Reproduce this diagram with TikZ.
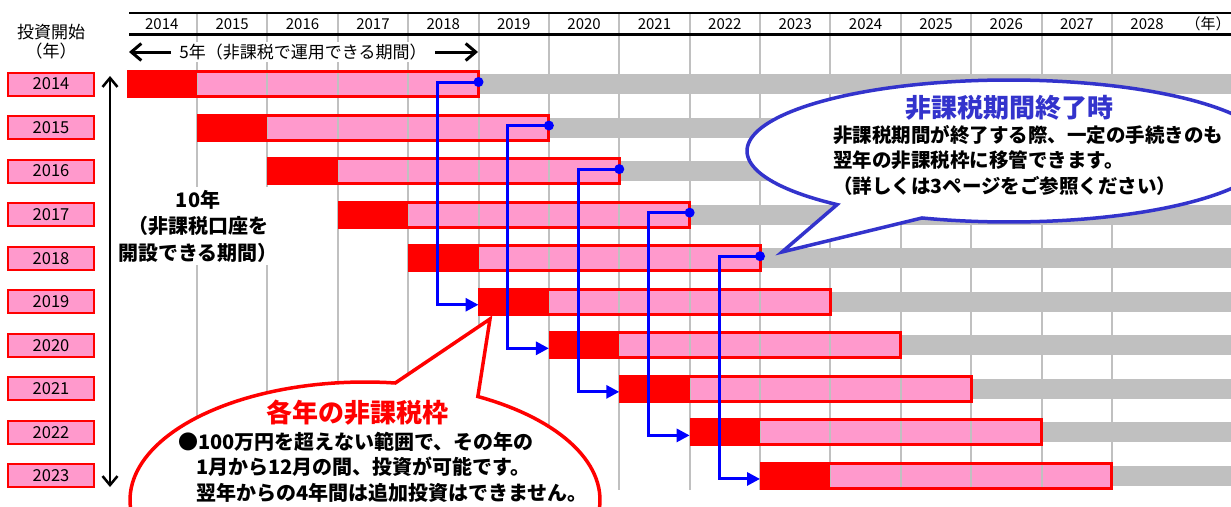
\documentclass[tikz,border=0pt]{standalone}
\usepackage{fontspec}
\setmainfont{Noto Sans CJK JP}
\usetikzlibrary{arrows.meta}
\definecolor{barred}{HTML}{FF0000}
\definecolor{pinkc}{HTML}{FF99CC}
\definecolor{grayc}{HTML}{C0C0C0}
\definecolor{connblue}{HTML}{0000FF}
\definecolor{callblue}{HTML}{3333CC}
\tikzset{
  gridl/.style={draw=grayc, line width=2},
  rowlab/.style={draw=barred, line width=2, fill=pinkc, minimum width=86, minimum height=23, inner sep=0, font=\fontsize{16.5}{16.5}\selectfont},
  yearhead/.style={font=\fontsize{15}{15}\selectfont, inner sep=0},
  conn/.style={draw=connblue, line width=3, -{Triangle[length=13,width=13]}},
  bigarrow/.style={draw=black, line width=3, -{Straight Barb[length=10,width=17]}},
  vertarrow/.style={draw=black, line width=2.5, {Straight Barb[length=9,width=15]}-{Straight Barb[length=9,width=15]}},
  callred/.style={draw=barred, line width=3.5, fill=white},
  callbl/.style={draw=callblue, line width=3.5, fill=white},
  bodytext/.style={font=\fontsize{20}{20}\selectfont\bfseries, inner sep=0, anchor=west},
}
\begin{document}
\begin{tikzpicture}[x=1pt,y=-1pt]
\useasboundingbox (0,0) rectangle (1231,506);
\clip (0,0) rectangle (1231,506);
\fill[white] (0,0) rectangle (1231,506);

% pink parts of bars
\foreach \i in {0,...,9}{
  \pgfmathsetmacro\xs{126.6+70.38*\i}
  \pgfmathsetmacro\xr{\xs+70.38}
  \pgfmathsetmacro\xe{\xs+351.9}
  \pgfmathsetmacro\yc{84+43.55*\i}
  \fill[pinkc] (\xr,\yc-12.5) rectangle (\xe,\yc+12.5);
}
% grid lines
\foreach \k in {1,...,14}{
  \draw[gridl] ({126.6+70.38*\k},13) -- ({126.6+70.38*\k},490);
}
% header lines
\draw[line width=2] (129,13) -- (1231,13);
\draw[line width=3] (129,34) -- (1231,34);
\foreach \k in {0,...,14}{
  \pgfmathtruncatemacro\yr{2014+\k}
  \node[yearhead] (h\k) at ({126.6+70.38*\k+35.19},24) {\yr};
}
\node[yearhead, font=\fontsize{15}{15}\selectfont] (hunit) at (1208,24) {（年）};

% bars
\foreach \i in {0,...,9}{
  \pgfmathsetmacro\xs{128+70.38*\i}
  \pgfmathsetmacro\xr{126.6+70.38*(\i+1)}
  \pgfmathsetmacro\xe{126.6+70.38*(\i+5)}
  \pgfmathsetmacro\yc{84+43.55*\i}
  \fill[grayc] (\xe,\yc-10) rectangle (1231,\yc+10);
  \fill[barred] (\xs,\yc-12.5) rectangle (\xr,\yc+12.5);
  \draw[barred, line width=3] (\xs,\yc-12.5) rectangle (\xe,\yc+12.5);
  \pgfmathtruncatemacro\yr{2014+\i}
  \node[rowlab] (r\i) at (51,\yc) {\yr};
}

% blue connectors
\foreach \i in {0,...,4}{
  \pgfmathsetmacro\xe{126.6+70.38*\i+351.9}
  \pgfmathsetmacro\yc{84+43.55*\i-2}
  \pgfmathsetmacro\yt{84+43.55*(\i+5)+3}
  \coordinate (d\i) at (\xe,\yc);
  \coordinate (t\i) at (\xe,\yt);
  \draw[conn] (d\i) -- ++(-41,0) |- (t\i);
  \fill[connblue] (d\i) circle (5);
}

% top-left header
\node[font=\fontsize{17}{17}\selectfont, inner sep=0] (inv) at (51,32) {投資開始};
\node[font=\fontsize{17}{17}\selectfont, inner sep=0] (invy) at (51,51) {（年）};

% 5 year span
\node[font=\fontsize{17}{17}\selectfont, fill=white, inner sep=2] (five) at (303,52) {5年（非課税で運用できる期間）};
\coordinate (fl1) at (171,52);
\coordinate (fl2) at (129,52);
\coordinate (fr1) at (435,52);
\coordinate (fr2) at (478,52);
\draw[bigarrow] (fl1) -- (fl2);
\draw[bigarrow] (fr1) -- (fr2);

% 10 year span
\coordinate (va) at (110,76);
\coordinate (vb) at (110,487);
\draw[vertarrow] (va) -- (vb);
\node[fill=white, align=center, inner sep=3, font=\fontsize{20}{26.5}\selectfont\bfseries] (ten) at (198,226) {10年\\（非課税口座を\\開設できる期間）};

% blue callout
\draw[callbl] (782,252) -- plot[domain=131:469.4, samples=160] ({1009+262*cos(\x)},{151+71*sin(\x)}) -- cycle;
\node[font=\fontsize{26}{26}\selectfont\bfseries, text=callblue, inner sep=0] (bt) at (1009,108) {非課税期間終了時};
\node[bodytext, font=\fontsize{19.5}{19.5}\selectfont\bfseries] (b1) at (833,135) {非課税期間が終了する際、一定の手続きのも};
\node[bodytext, font=\fontsize{19.5}{19.5}\selectfont\bfseries] (b2) at (833,160) {翌年の非課税枠に移管できます。};
\node[bodytext, font=\fontsize{19.5}{19.5}\selectfont\bfseries] (b3) at (833,186) {（詳しくは3ページをご参照ください）};

% red callout
\draw[callred] (490,319) -- plot[domain=-61.3:277.4, samples=160] ({365+235*cos(\x)},{500+118*sin(\x)}) -- cycle;
\node[font=\fontsize{26}{26}\selectfont\bfseries, text=barred, inner sep=0] (rt) at (357,413) {各年の非課税枠};
\node[bodytext] (l1) at (178,442) {●100万円を超えない範囲で、その年の};
\node[bodytext] (l2) at (196,467) {1月から12月の間、投資が可能です。};
\node[bodytext] (l3) at (196,493) {翌年からの4年間は追加投資はできません。};
\end{tikzpicture}
\end{document}
